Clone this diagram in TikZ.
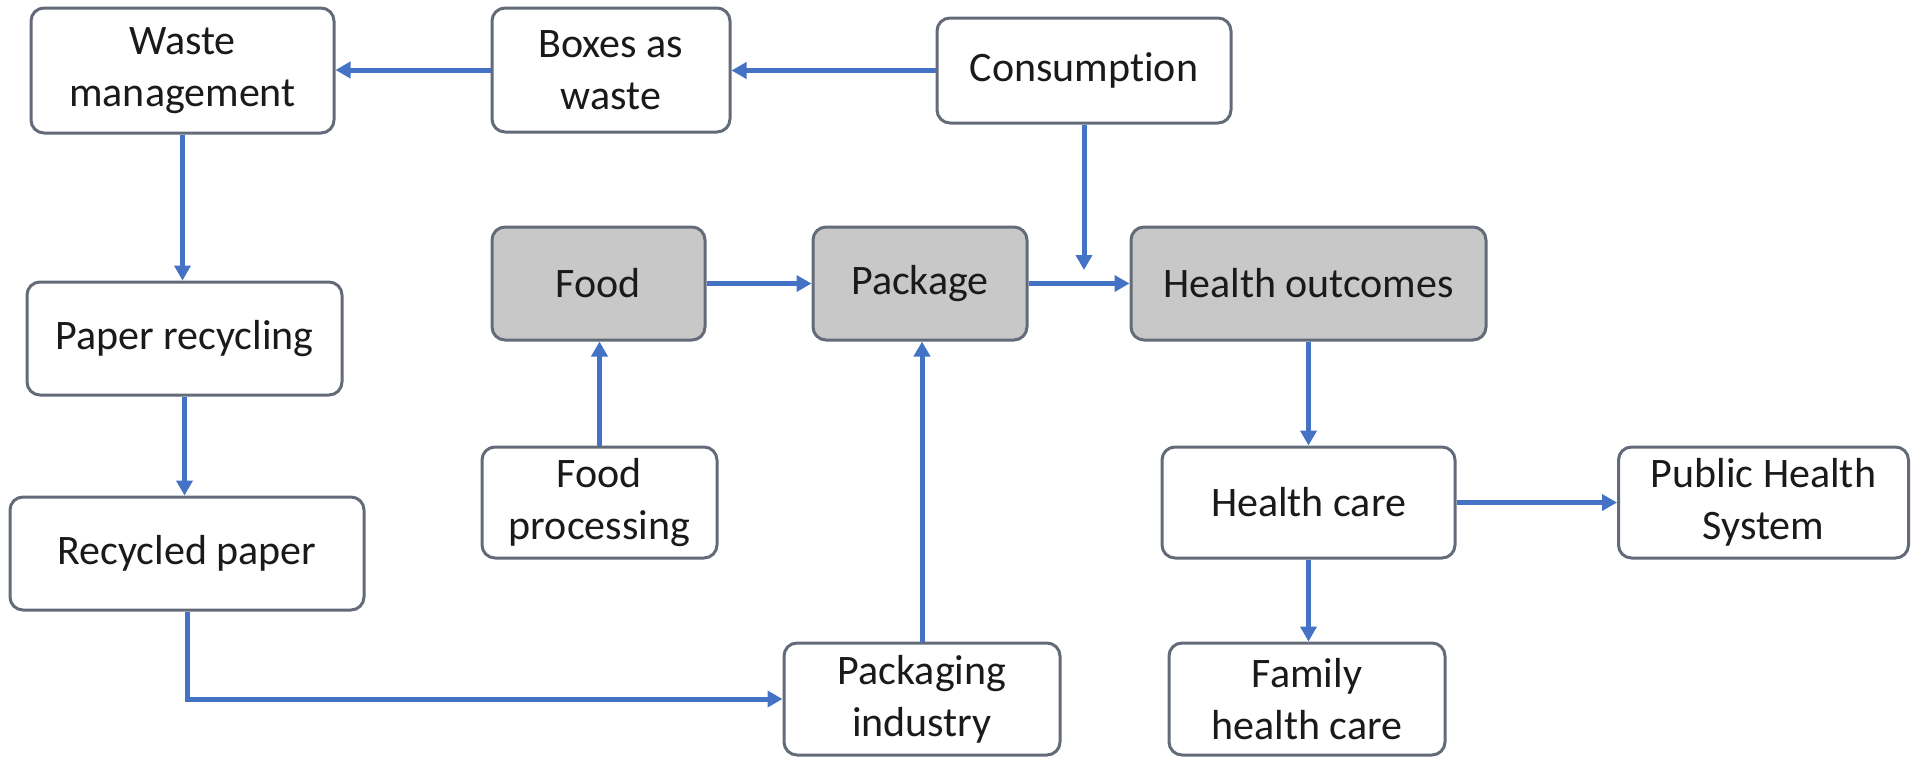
\documentclass[tikz,border=0pt]{standalone}
\usepackage{fontspec}
\setmainfont{Carlito}[Ligatures=NoCommon]
\usetikzlibrary{arrows.meta}
\definecolor{arrowblue}{HTML}{4472C4}
\definecolor{boxline}{HTML}{646B78}
\definecolor{boxgray}{HTML}{C8C8C8}
\definecolor{txt}{HTML}{1A1A1A}
\tikzset{
  blk/.style={draw=boxline, line width=1.5pt, rounded corners=6.5pt, fill=white, align=center, inner sep=0pt, font=\fontsize{21}{26}\selectfont, text=txt},
  grayblk/.style={blk, fill=boxgray},
  flow/.style={draw=arrowblue, line width=2.5pt, -{Triangle[length=7.5pt,width=8pt]}},
}
\begin{document}
\begin{tikzpicture}[x=0.5pt,y=-0.5pt]
\useasboundingbox (0,0) rectangle (1911,757);
\node[blk, minimum width=151.5pt, minimum height=62.5pt] (waste) at (182.5,70.5) {Waste\\management};
\node[blk, minimum width=119pt, minimum height=62pt] (boxes) at (611,70) {Boxes as\\waste};
\node[blk, minimum width=147pt, minimum height=52.5pt] (cons) at (1084,70.5) {Consumption};
\node[grayblk, minimum width=106.5pt, minimum height=56.5pt] (food) at (598.5,283.5) {Food};
\node[grayblk, minimum width=107pt, minimum height=56.5pt] (package) at (920,283.5) {Package};
\node[grayblk, minimum width=177.5pt, minimum height=56.5pt] (healthout) at (1308.5,283.5) {Health outcomes};
\node[blk, minimum width=157.5pt, minimum height=56.5pt] (paperrec) at (184.5,338.5) {Paper recycling};
\node[blk, minimum width=117.5pt, minimum height=55.5pt] (foodproc) at (599.5,502.5) {Food\\processing};
\node[blk, minimum width=177pt, minimum height=56.5pt] (recpaper) at (187,553.5) {Recycled paper};
\node[blk, minimum width=146.5pt, minimum height=55.5pt] (healthcare) at (1308.5,502.5) {Health care};
\node[blk, minimum width=145pt, minimum height=55.5pt] (public) at (1763.5,502.5) {Public Health\\System};
\node[blk, minimum width=138pt, minimum height=56pt] (packind) at (922,699) {Packaging\\industry};
\node[blk, minimum width=138pt, minimum height=56pt] (family) at (1307,699) {Family\\health care};

\draw[flow] (cons.west) -- (cons.west -| boxes.east);
\draw[flow] (boxes.west) -- (boxes.west -| waste.east);
\draw[flow] (waste.south) -- (waste.south |- paperrec.north);
\draw[flow] (paperrec.south) -- (paperrec.south |- recpaper.north);
\draw[flow] (recpaper.south) |- (packind.west);
\draw[flow] (foodproc.north) -- (foodproc.north |- food.south);
\draw[flow] (packind.north) -- (packind.north |- package.south);
\draw[flow] (food.east) -- (package.west);
\draw[flow] (package.east) -- (healthout.west);
\coordinate (cend) at (1084,270);
\draw[flow] (cons.south) -- (cend);
\draw[flow] (healthout.south) -- (healthout.south |- healthcare.north);
\draw[flow] (healthcare.east) -- (public.west);
\draw[flow] (healthcare.south) -- (healthcare.south |- family.north);
\end{tikzpicture}
\end{document}
